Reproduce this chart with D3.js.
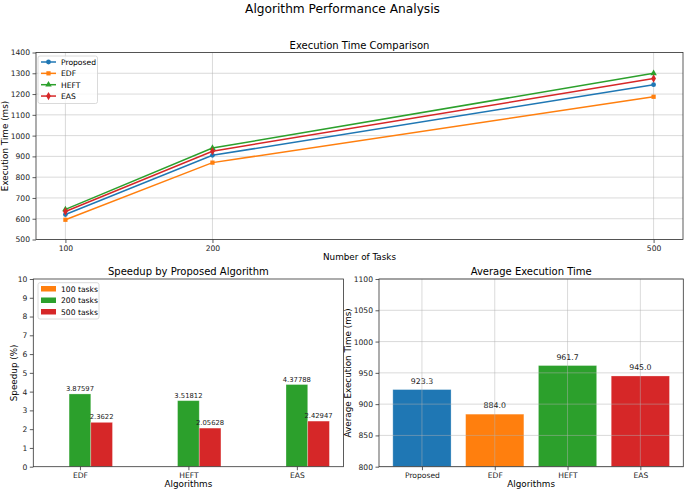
<!DOCTYPE html>
<html>
<head>
<meta charset="utf-8">
<script src="https://cdn.jsdelivr.net/npm/d3@7"></script>
<style>
  html, body { margin: 0; padding: 0; background: #fff; }
  svg { display: block; font-family: "DejaVu Sans", sans-serif; }
</style>
</head>
<body>
<svg id="chart" width="685" height="490"></svg>
<script>
// ---------- DATA ----------
const taskCounts = [100, 200, 500];
const algorithms = ["Proposed", "EDF", "HEFT", "EAS"];
const proposedTimes = [620, 905, 1245];
const edfTimes = [595, 870, 1187];
const heftTimes = [645, 940, 1300];
const easTimes = [635, 925, 1275];
const execTicks = [500, 600, 700, 800, 900, 1000, 1100, 1200, 1300, 1400];

const speedupAlgorithms = ["EDF", "HEFT", "EAS"];
const speedupSeries = ["100 tasks", "200 tasks", "500 tasks"];
const speedup100 = [null, null, null];
const speedup200 = [3.87597, 3.51812, 4.37788];
const speedup500 = [2.3622, 2.05628, 2.42947];
const speedupLabels200 = ["3.87597", "3.51812", "4.37788"];
const speedupLabels500 = ["2.3622", "2.05628", "2.42947"];
const speedupTicks = [0, 1, 2, 3, 4, 5, 6, 7, 8, 9, 10];

const avgTimes = [923.3, 884.0, 961.7, 945.0];
const avgTicks = [800, 850, 900, 950, 1000, 1050, 1100];

const colors = ["#1f77b4", "#ff7f0e", "#2ca02c", "#d62728"];

// ---------- SETUP ----------
const svg = d3.select("#chart");
const FONT_TICK = 7.6, FONT_LABEL = 8.8, FONT_TITLE = 10;
const fmtInt = d3.format("d");

svg.append("text").attr("x", 342.5).attr("y", 13).attr("text-anchor", "middle")
  .attr("font-size", 12.2).attr("fill", "#000").text("Algorithm Performance Analysis");

function styleAxis(g) {
  g.selectAll(".domain").remove();
  g.selectAll(".tick line").attr("stroke", "#333").attr("stroke-width", 0.8);
  g.selectAll(".tick text").attr("font-size", FONT_TICK).attr("fill", "#222")
    .attr("font-family", "DejaVu Sans, sans-serif");
}
function frame(L, R, T, B) {
  svg.append("rect").attr("x", L).attr("y", T).attr("width", R - L).attr("height", B - T)
    .attr("fill", "none").attr("stroke", "#333").attr("stroke-width", 0.8);
}

// ---------- TOP: line chart ----------
{
  const L = 36, R = 683, T = 52.5, B = 239.5;
  const x = d3.scaleLinear().domain([80, 520]).range([L, R]);
  const y = d3.scaleLinear().domain([500, 1400]).range([B, T]);
  const gridG = svg.append("g");
  execTicks.forEach(v => gridG.append("line").attr("x1", L).attr("x2", R)
    .attr("y1", y(v)).attr("y2", y(v)).attr("stroke", "#b0b0b0").attr("stroke-opacity", 0.6).attr("stroke-width", 0.8));
  taskCounts.forEach(v => gridG.append("line").attr("y1", T).attr("y2", B)
    .attr("x1", x(v)).attr("x2", x(v)).attr("stroke", "#b0b0b0").attr("stroke-opacity", 0.6).attr("stroke-width", 0.8));

  const series = [proposedTimes, edfTimes, heftTimes, easTimes];
  const shapes = [d3.symbolCircle, d3.symbolSquare, d3.symbolTriangle, d3.symbolDiamond];
  const sizes = [18, 18, 18, 20];
  const line = d3.line().x((d, i) => x(taskCounts[i])).y(d => y(d));
  series.forEach((s, k) => {
    svg.append("path").datum(s).attr("d", line).attr("fill", "none")
      .attr("stroke", colors[k]).attr("stroke-width", 1.5);
    svg.selectAll(null).data(s).enter().append("path")
      .attr("transform", (d, i) => `translate(${x(taskCounts[i])},${y(d)})`)
      .attr("d", d3.symbol().type(shapes[k]).size(sizes[k]))
      .attr("fill", colors[k]);
  });

  svg.append("g").attr("transform", `translate(0,${B})`)
    .call(d3.axisBottom(x).tickValues(taskCounts).tickFormat(fmtInt).tickSize(3.5).tickPadding(2.5)).call(styleAxis);
  svg.append("g").attr("transform", `translate(${L},0)`)
    .call(d3.axisLeft(y).tickValues(execTicks).tickFormat(fmtInt).tickSize(3.5).tickPadding(2.5)).call(styleAxis);
  frame(L, R, T, B);

  svg.append("text").attr("x", (L + R) / 2).attr("y", 48.5).attr("text-anchor", "middle")
    .attr("font-size", FONT_TITLE).text("Execution Time Comparison");
  svg.append("text").attr("x", (L + R) / 2).attr("y", 260).attr("text-anchor", "middle")
    .attr("font-size", FONT_LABEL).text("Number of Tasks");
  svg.append("text").attr("transform", `translate(8,${(T + B) / 2}) rotate(-90)`).attr("text-anchor", "middle")
    .attr("font-size", FONT_LABEL).text("Execution Time (ms)");

  // legend
  const lg = svg.append("g");
  lg.append("rect").attr("x", 38).attr("y", 56).attr("width", 59.5).attr("height", 47.5)
    .attr("fill", "#fff").attr("fill-opacity", 0.8).attr("stroke", "#d0d0d0").attr("stroke-width", 0.8).attr("rx", 2);
  algorithms.forEach((a, k) => {
    const yy = 62 + k * 11.35;
    lg.append("line").attr("x1", 41).attr("x2", 56).attr("y1", yy).attr("y2", yy)
      .attr("stroke", colors[k]).attr("stroke-width", 1.5);
    lg.append("path").attr("transform", `translate(48.5,${yy})`)
      .attr("d", d3.symbol().type(shapes[k]).size(sizes[k])).attr("fill", colors[k]);
    lg.append("text").attr("x", 61).attr("y", yy + 2.8).attr("font-size", FONT_TICK).text(a);
  });
}

// ---------- BOTTOM LEFT: grouped bars ----------
{
  const L = 33.3, R = 343.5, T = 279, B = 466.7;
  const x = d3.scaleLinear().domain([-0.43, 2.43]).range([L, R]);
  const y = d3.scaleLinear().domain([0, 10]).range([B, T]);
  const w = 0.2;
  const groups = [speedup100, speedup200, speedup500];
  const labelSets = [null, speedupLabels200, speedupLabels500];
  groups.forEach((vals, g) => {
    const off = (g - 1) * w;
    const data = vals.map((v, i) => ({ v, i })).filter(d => d.v !== null);
    svg.selectAll(null).data(data).enter().append("rect")
      .attr("x", d => x(d.i + off - w / 2)).attr("width", d => x(w) - x(0))
      .attr("y", d => y(d.v)).attr("height", d => y(0) - y(d.v))
      .attr("fill", colors[[1, 2, 3][g]]).attr("stroke", "#fff").attr("stroke-opacity", 0.35).attr("stroke-width", 0.8);
    if (labelSets[g]) {
      svg.selectAll(null).data(data).enter().append("text")
        .attr("x", d => x(d.i + off)).attr("y", d => y(d.v) - 3)
        .attr("text-anchor", "middle").attr("font-size", 6.8).attr("fill", "#222")
        .text(d => labelSets[g][d.i]);
    }
  });
  svg.append("g").attr("transform", `translate(0,${B})`)
    .call(d3.axisBottom(x).tickValues([0, 1, 2]).tickFormat((d, i) => speedupAlgorithms[i]).tickSize(3.5).tickPadding(2.5)).call(styleAxis);
  svg.append("g").attr("transform", `translate(${L},0)`)
    .call(d3.axisLeft(y).tickValues(speedupTicks).tickFormat(fmtInt).tickSize(3.5).tickPadding(2.5)).call(styleAxis);
  frame(L, R, T, B);

  svg.append("text").attr("x", (L + R) / 2).attr("y", 275).attr("text-anchor", "middle")
    .attr("font-size", FONT_TITLE).text("Speedup by Proposed Algorithm");
  svg.append("text").attr("x", (L + R) / 2).attr("y", 487).attr("text-anchor", "middle")
    .attr("font-size", FONT_LABEL).text("Algorithms");
  svg.append("text").attr("transform", `translate(16.5,${(T + B) / 2}) rotate(-90)`).attr("text-anchor", "middle")
    .attr("font-size", FONT_LABEL).text("Speedup (%)");

  const lg = svg.append("g");
  lg.append("rect").attr("x", 38).attr("y", 282.7).attr("width", 61).attr("height", 36.3)
    .attr("fill", "#fff").attr("fill-opacity", 0.8).attr("stroke", "#d0d0d0").attr("stroke-width", 0.8).attr("rx", 2);
  speedupSeries.forEach((s, k) => {
    const yy = 289 + k * 11.5;
    lg.append("rect").attr("x", 41).attr("y", yy - 3).attr("width", 15).attr("height", 5.5)
      .attr("fill", colors[k + 1]);
    lg.append("text").attr("x", 61).attr("y", yy + 2.8).attr("font-size", FONT_TICK).text(s);
  });
}

// ---------- BOTTOM RIGHT: average bars ----------
{
  const L = 379, R = 683.3, T = 279, B = 466.7;
  const x = d3.scaleLinear().domain([-0.59, 3.59]).range([L, R]);
  const y = d3.scaleLinear().domain([800, 1100]).range([B, T]);
  const w = 0.8;
  svg.selectAll(null).data(avgTimes).enter().append("rect")
    .attr("x", (d, i) => x(i - w / 2)).attr("width", x(w) - x(0))
    .attr("y", d => y(d)).attr("height", d => B - y(d))
    .attr("fill", (d, i) => colors[i]).attr("stroke", "#fff").attr("stroke-opacity", 0.35).attr("stroke-width", 0.8);
  const gridG = svg.append("g");
  avgTicks.forEach(v => gridG.append("line").attr("x1", L).attr("x2", R)
    .attr("y1", y(v)).attr("y2", y(v)).attr("stroke", "#b0b0b0").attr("stroke-opacity", 0.6).attr("stroke-width", 0.8));
  algorithms.forEach((a, i) => gridG.append("line").attr("y1", T).attr("y2", B)
    .attr("x1", x(i)).attr("x2", x(i)).attr("stroke", "#b0b0b0").attr("stroke-opacity", 0.6).attr("stroke-width", 0.8));
  svg.selectAll(null).data(avgTimes).enter().append("text")
    .attr("x", (d, i) => x(i)).attr("y", d => y(d) - 6)
    .attr("text-anchor", "middle").attr("font-size", 7.8).attr("fill", "#222")
    .text(d => d.toFixed(1));
  svg.append("g").attr("transform", `translate(0,${B})`)
    .call(d3.axisBottom(x).tickValues([0, 1, 2, 3]).tickFormat((d, i) => algorithms[i]).tickSize(3.5).tickPadding(2.5)).call(styleAxis);
  svg.append("g").attr("transform", `translate(${L},0)`)
    .call(d3.axisLeft(y).tickValues(avgTicks).tickFormat(fmtInt).tickSize(3.5).tickPadding(2.5)).call(styleAxis);
  frame(L, R, T, B);

  svg.append("text").attr("x", (L + R) / 2).attr("y", 275).attr("text-anchor", "middle")
    .attr("font-size", FONT_TITLE).text("Average Execution Time");
  svg.append("text").attr("x", (L + R) / 2).attr("y", 487).attr("text-anchor", "middle")
    .attr("font-size", FONT_LABEL).text("Algorithms");
  svg.append("text").attr("transform", `translate(351,${(T + B) / 2}) rotate(-90)`).attr("text-anchor", "middle")
    .attr("font-size", FONT_LABEL).text("Average Execution Time (ms)");
}
</script>
</body>
</html>
